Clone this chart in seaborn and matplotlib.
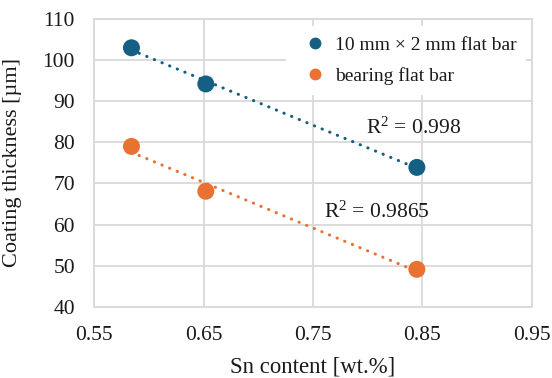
import matplotlib
matplotlib.use("Agg")
import matplotlib.pyplot as plt
import seaborn as sns
import pandas as pd
import numpy as np
from matplotlib.lines import Line2D

sn_content = [0.584, 0.652, 0.845]
flat_bar = [103.0, 94.2, 73.9]
bearing_bar = [79.0, 68.1, 49.1]
series_names = ["10 mm × 2 mm flat bar", "bearing flat bar"]
r2_labels = ["R$^2$ = 0.998", "R$^2$ = 0.9865"]
xtick_vals = [0.55, 0.65, 0.75, 0.85, 0.95]
xtick_labels = ["0.55", "0.65", "0.75", "0.85", "0.95"]
ytick_vals = [40, 50, 60, 70, 80, 90, 100, 110]
colors = ["#156082", "#E97132"]

sns.set_theme(style="white")
plt.rcParams['font.family'] = ['Liberation Serif', 'DejaVu Serif']
plt.rcParams['mathtext.fontset'] = 'custom'
plt.rcParams['mathtext.rm'] = 'Liberation Serif'
plt.rcParams['mathtext.it'] = 'Liberation Serif:italic'

TXT = "#1a1a1a"
df = pd.DataFrame({
    "x": sn_content * 2,
    "y": flat_bar + bearing_bar,
    "series": [series_names[0]] * 3 + [series_names[1]] * 3,
})

fig = plt.figure(figsize=(5.52, 3.78), dpi=100)
ax = fig.add_axes([0.1708, 0.1886, 0.9632 - 0.1708, 0.9497 - 0.1886])

for name, col in zip(series_names, colors):
    sub = df[df.series == name]
    sns.regplot(data=sub, x="x", y="y", scatter=False, ci=None, ax=ax,
                line_kws=dict(color=col, lw=2.2, linestyle=(0, (0.1, 2.6)),
                              dash_capstyle='round', zorder=2))
sns.scatterplot(data=df, x="x", y="y", hue="series", palette=colors,
                s=150, edgecolor='none', ax=ax, legend=False, zorder=3)

ax.set_xlim(0.55, 0.95)
ax.set_ylim(40, 110)
ax.set_xticks(xtick_vals)
ax.set_xticklabels(xtick_labels)
ax.set_yticks(ytick_vals)
ax.grid(True, color="#d9d9d9", lw=1.3)
ax.set_axisbelow(True)
for sp in ax.spines.values():
    sp.set_color("#d9d9d9")
    sp.set_linewidth(1.3)
ax.tick_params(axis='both', length=0, labelsize=15.5, colors=TXT)
ax.tick_params(axis='y', pad=14)
ax.tick_params(axis='x', pad=14)
ax.set_xlabel("Sn content [wt.%]", fontsize=16.4, color=TXT, labelpad=8)
ax.set_ylabel("Coating thickness [µm]", fontsize=16, color=TXT)
ax.yaxis.set_label_coords(-0.165, 0.5)

ax.text(0.8415, 83.5, r2_labels[0], fontsize=15.5, color=TXT, ha='center', va='center')
ax.text(0.8085, 62.9, r2_labels[1], fontsize=15.5, color=TXT, ha='center', va='center')

handles = [Line2D([], [], marker='o', ls='none', color=c, markersize=7.5) for c in colors]
leg = ax.legend(handles, series_names, loc='upper right', bbox_to_anchor=(0.987, 0.975),
                frameon=True, fontsize=14, handletextpad=0.0, labelspacing=0.7,
                borderpad=0.5, fancybox=False, borderaxespad=0.0)
leg.get_frame().set_edgecolor('none')
leg.get_frame().set_facecolor('white')
leg.get_frame().set_alpha(1)
for t in leg.get_texts():
    t.set_color(TXT)

fig.savefig("out.png", dpi=100)
